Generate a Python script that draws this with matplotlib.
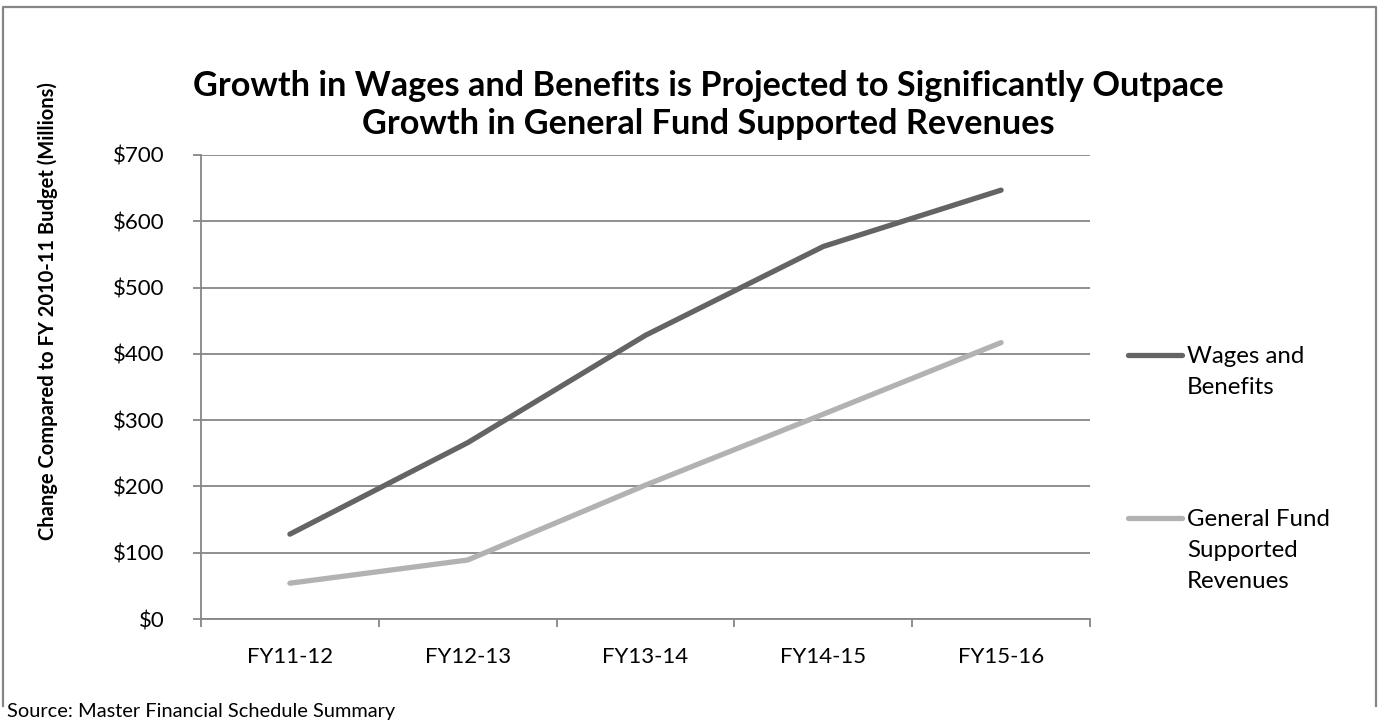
import numpy as np
import matplotlib
matplotlib.use("Agg")
import matplotlib.pyplot as plt
from matplotlib.lines import Line2D
from matplotlib.ticker import FuncFormatter

plt.rcParams['font.family'] = ['Lato', 'DejaVu Sans']

# Fiscal years and projected change (in $ millions) vs. FY 2010-11 budget
years = ["FY11-12", "FY12-13", "FY13-14", "FY14-15", "FY15-16"]
wages = [128, 266, 428, 562, 647]
revenues = [54, 89, 202, 309, 417]

series_labels = ["Wages and\nBenefits", "General Fund\nSupported\nRevenues"]
series_colors = ["#646464", "#b2b2b2"]

W, H = 1380, 723
fig = plt.figure(figsize=(W / 100, H / 100), dpi=100)
ax = fig.add_axes([201 / W, 1 - 619 / H, (1090 - 201) / W, (619 - 155) / H])

x = np.arange(len(years))
ax.plot(x, wages, color=series_colors[0], lw=3.8, solid_capstyle='round')
ax.plot(x, revenues, color=series_colors[1], lw=3.8, solid_capstyle='round')

ax.set_xlim(-0.5, len(years) - 0.5)
ax.set_ylim(0, 700)
ax.set_yticks(np.arange(0, 701, 100))
ax.yaxis.set_major_formatter(FuncFormatter(lambda v, p: f"${v:.0f}"))
ax.set_xticks(x)
ax.set_xticklabels(years)
ax.set_xticks(np.arange(-0.5, len(years), 1), minor=True)

ax.grid(axis='y', color='#868686', lw=1.3)
ax.set_axisbelow(True)
for s in ['top', 'right']:
    ax.spines[s].set_visible(False)
for s in ['left', 'bottom']:
    ax.spines[s].set_color('#868686')
    ax.spines[s].set_linewidth(1.3)

ax.tick_params(axis='y', which='major', length=6, width=1.3, color='#868686',
               labelsize=16, pad=20)
ax.tick_params(axis='x', which='major', length=0, labelsize=16, pad=20)
ax.tick_params(axis='x', which='minor', length=6, width=1.3, color='#868686')

# axis title sits centred on the chart area rather than the plot
fig.text(48 / W, 1 - 311 / H, "Change Compared to FY 2010-11 Budget (Millions)",
         rotation=90, ha='center', va='center', fontsize=14.5, fontweight='bold')

fig.text(708 / W, 1 - 105 / H, "Growth in Wages and Benefits is Projected to Significantly Outpace\n"
         "Growth in General Fund Supported Revenues", ha='center', va='center',
         fontsize=24.7, fontweight='bold', linespacing=1.25)

# legend drawn by hand so the key sits beside the first line of each label
legend_y = [355, 518]
for lbl, col, yy in zip(series_labels, series_colors, legend_y):
    yf = 1 - yy / H
    fig.add_artist(Line2D([1128 / W, 1182 / W], [yf, yf], color=col, lw=3.8,
                          solid_capstyle='round'))
    fig.text(1187 / W, yf + 9 / H, lbl, ha='left', va='top', fontsize=17.3,
             linespacing=1.58)

fig.text(7 / W, 1 - 717 / H, "Source: Master Financial Schedule Summary",
         ha='left', va='baseline', fontsize=14.4)

# outer frame (open at the bottom)
frame_x = [3 / W, 3 / W, 1376 / W, 1376 / W]
frame_y = [1 - 706 / H, 1 - 7 / H, 1 - 7 / H, 1 - 706 / H]
fig.add_artist(Line2D(frame_x, frame_y, color='#868686', lw=1.6))

fig.savefig("out.png", dpi=100)
